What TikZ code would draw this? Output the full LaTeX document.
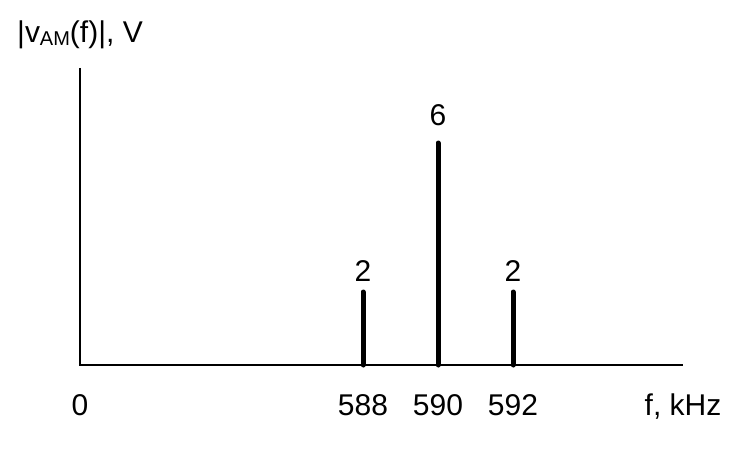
\documentclass[tikz,border=0pt]{standalone}
\usepackage{fontspec}
\setmainfont{Liberation Sans}
\begin{document}
\begin{tikzpicture}[x=1pt,y=-1pt,
  lbl/.style={inner sep=0pt,anchor=base,font=\fontsize{30}{36}\selectfont},
  axis/.style={line width=1.5pt},
  spike/.style={line width=5pt,line cap=round}]
\useasboundingbox (0,0) rectangle (752,460);
% axes
\coordinate (o) at (80,365);
\coordinate (ytop) at (80,68);
\coordinate (xend) at (683,365);
\draw[axis] (ytop) -- (o) -- (xend);
% spikes
\coordinate (b1) at (363,365); \coordinate (t1) at (363,292);
\coordinate (b2) at (438,365); \coordinate (t2) at (438,143);
\coordinate (b3) at (513,365); \coordinate (t3) at (513,292);
\draw[spike] (b1) -- (t1);
\draw[spike] (b2) -- (t2);
\draw[spike] (b3) -- (t3);
% value labels
\node[lbl] (v1) at (363,281) {2};
\node[lbl] (v2) at (438,125) {6};
\node[lbl] (v3) at (513,281) {2};
% axis labels
\node[lbl] (l0) at (80,415) {0};
\node[lbl] (l1) at (363,415) {588};
\node[lbl] (l2) at (438,415) {590};
\node[lbl] (l3) at (513,415) {592};
\node[lbl] (lf) at (683,415) {f, kHz};
\node[lbl,anchor=base west] (ttl) at (17,43) {|v\raisebox{-3pt}{\fontsize{20}{24}\selectfont AM}(f)|, V};
\end{tikzpicture}
\end{document}
